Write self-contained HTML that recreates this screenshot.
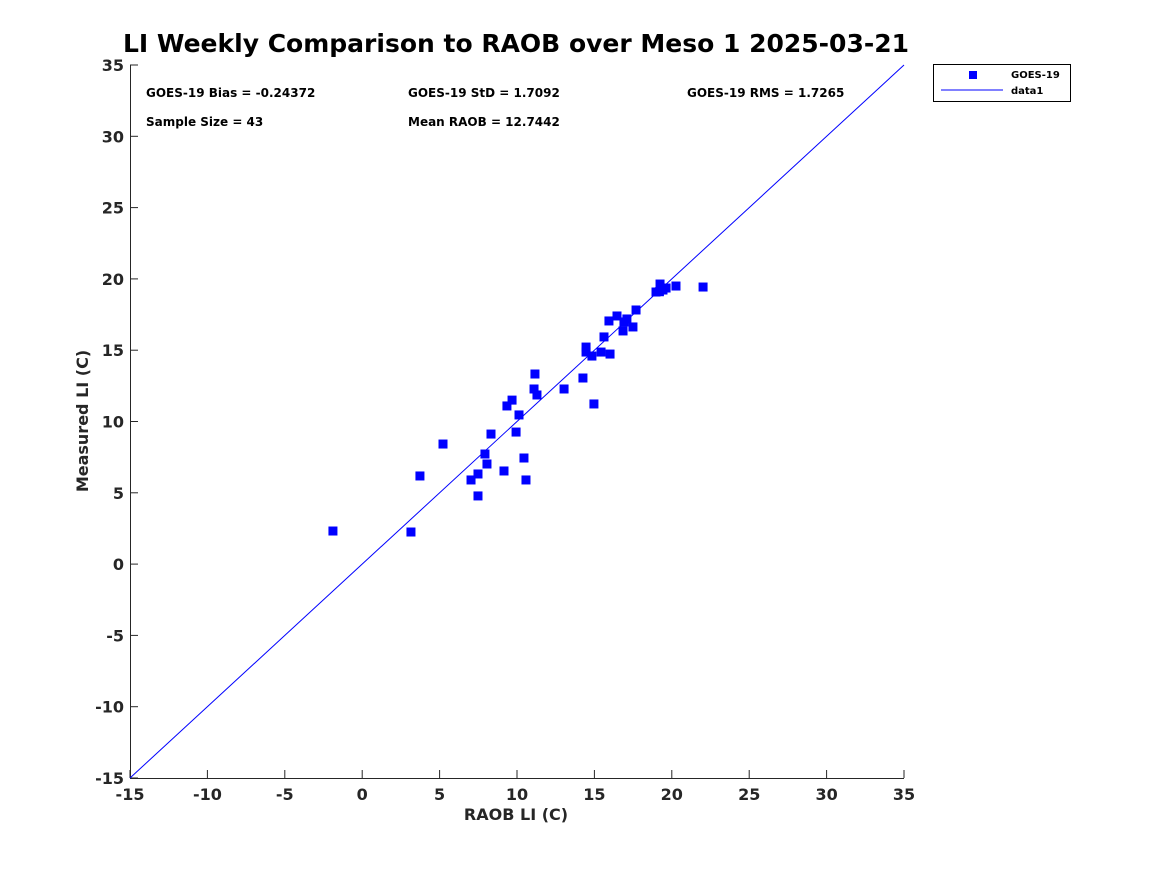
<!DOCTYPE html>
<html><head><meta charset="utf-8"><style>
body{margin:0;background:#fff;font-family:"Liberation Sans",sans-serif;}
svg text{font-family:"DejaVu Sans","Liberation Sans",sans-serif;font-weight:bold;}
</style></head><body>
<svg id="chart" width="1167" height="875" xmlns="http://www.w3.org/2000/svg">
<rect width="1167" height="875" fill="#fff"/>
<text x="516" y="52" font-size="25" text-anchor="middle" fill="#000">LI Weekly Comparison to RAOB over Meso 1 2025-03-21</text>
<g id="stats" font-size="12" fill="#000">
<text x="146" y="97">GOES-19 Bias = -0.24372</text>
<text x="408" y="97">GOES-19 StD = 1.7092</text>
<text x="687" y="97">GOES-19 RMS = 1.7265</text>
<text x="146" y="126">Sample Size = 43</text>
<text x="408" y="126">Mean RAOB = 12.7442</text>
</g>
<g id="axes"></g>
<g id="marks"></g>
<text x="516" y="820" font-size="16" text-anchor="middle" fill="#262626">RAOB LI (C)</text>
<text transform="translate(88,421) rotate(-90)" font-size="16" text-anchor="middle" fill="#262626">Measured LI (C)</text>
<g>
<rect x="933.5" y="64.5" width="137" height="37" fill="#fff" stroke="#000" stroke-width="1"/>
<rect x="969" y="71" width="8" height="8" fill="#0000ff"/>
<text x="1011" y="78" font-size="10" fill="#000">GOES-19</text>
<line x1="941" y1="90" x2="1003" y2="90" stroke="#0000ff" stroke-width="1"/>
<text x="1011" y="94" font-size="10" fill="#000">data1</text>
</g>
</svg>
<script>
const raobX=[-1.89,3.15,3.73,5.22,7.03,7.48,7.48,7.93,8.06,8.32,9.16,9.35,9.68,9.94,10.13,10.45,10.58,11.1,11.16,11.29,13.04,14.26,14.46,14.46,14.84,14.97,15.43,15.62,16.01,15.94,16.46,16.85,16.91,17.1,17.49,17.69,18.98,19.24,19.43,19.63,20.27,22.02,19.2];
const measuredY=[2.32,2.25,6.18,8.42,5.9,6.32,4.78,7.72,7.02,9.12,6.53,11.09,11.5,9.26,10.46,7.44,5.9,12.28,13.33,11.86,12.28,13.05,15.22,14.87,14.59,11.23,14.87,15.93,14.73,17.05,17.4,16.35,16.98,17.19,16.63,17.82,19.08,19.64,19.22,19.36,19.5,19.43,19.1];
const xTicks=[-15,-10,-5,0,5,10,15,20,25,30,35];
const yTicks=[-15,-10,-5,0,5,10,15,20,25,30,35];
const NS="http://www.w3.org/2000/svg";
const X0=130,X1=904,Y0=778,Y1=65;
function sx(v){return X0+(v+15)/50*(X1-X0);}
function sy(v){return Y0-(v+15)/50*(Y0-Y1);}
function mk(t,a,p){const e=document.createElementNS(NS,t);for(const k in a)e.setAttribute(k,a[k]);p.appendChild(e);return e;}
const ax=document.getElementById('axes'),mg=document.getElementById('marks');
const xl=mk('line',{x1:X0,y1:Y0+0.5,x2:X1,y2:Y0+0.5,stroke:'#262626'},ax);


const yl=mk('line',{x1:X0+0.5,y1:Y0,x2:X0+0.5,y2:Y1,stroke:'#262626'},ax);


xTicks.forEach(v=>{const x=sx(v);mk('line',{x1:x,y1:Y0,x2:x,y2:Y0-8,stroke:'#262626'},ax);
const t=mk('text',{x:x,y:Y0+22,'font-size':16,'text-anchor':'middle',fill:'#262626'},ax);t.textContent=v;

});
yTicks.forEach(v=>{const y=sy(v);mk('line',{x1:X0,y1:y,x2:X0+8,y2:y,stroke:'#262626'},ax);
const t=mk('text',{x:X0-6,y:y+6,'font-size':16,'text-anchor':'end',fill:'#262626'},ax);t.textContent=v;

});
const ol=mk('line',{x1:sx(-15),y1:sy(-15),x2:sx(35),y2:sy(35),stroke:'#0000ff','stroke-width':1},mg);


raobX.forEach((v,i)=>{const r=mk('rect',{x:sx(v)-4.5,y:sy(measuredY[i])-4.5,width:9,height:9,fill:'#0000ff'},mg);

});
</script>
</body></html>
